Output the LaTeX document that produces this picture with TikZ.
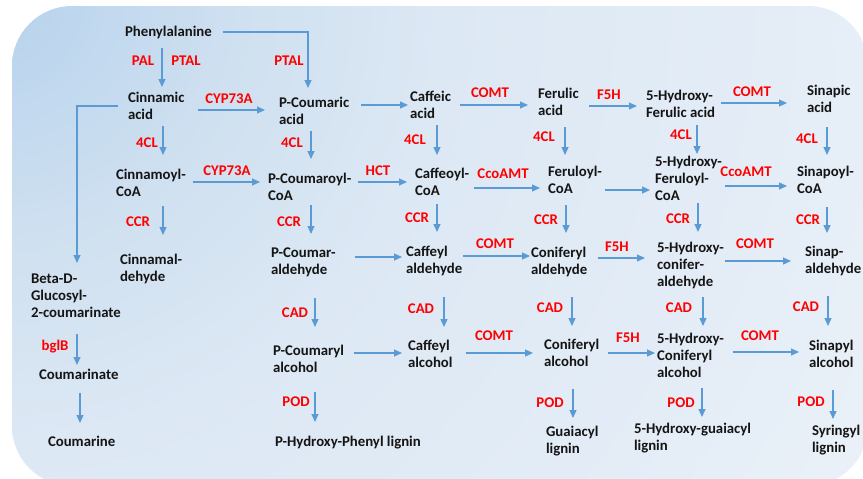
\documentclass[tikz,border=0pt]{standalone}
\usepackage{fontspec}
\setmainfont{Carlito}
\usetikzlibrary{arrows.meta}
\definecolor{arrowblue}{HTML}{5B9BD5}
\definecolor{labred}{HTML}{FF0000}
\definecolor{txt}{HTML}{151515}
\definecolor{bgA}{HTML}{B6D1EB}
\definecolor{bgB}{HTML}{BDD6EE}
\definecolor{bgC}{HTML}{CFE0F0}
\definecolor{bgD}{HTML}{DCE8F4}
\definecolor{bgE}{HTML}{E6EEF7}
\definecolor{bgF}{HTML}{EAF1F8}
% 25bp of the shading is stretched to 1000pt (1bp -> 40pt)
\pgfdeclareradialshading{bgrad}{\pgfpoint{0bp}{0bp}}{color(0bp)=(bgA); color(1.5bp)=(bgB); color(6bp)=(bgC); color(11bp)=(bgD); color(21.5bp)=(bgE); color(25bp)=(bgF); color(50bp)=(bgF)}
\begin{document}
\begin{tikzpicture}[x=1pt,y=-1pt,
  chem/.style={anchor=north west, inner sep=0pt, outer sep=0pt, align=left, text=txt,
    font=\fontsize{14.8}{17}\selectfont\bfseries, execute at begin node=\strut},
  enz/.style={anchor=base, inner sep=0pt, outer sep=0pt, text=labred,
    font=\fontsize{14.8}{17}\selectfont\bfseries},
  arr/.style={draw=arrowblue, line width=1.2pt, -{Triangle[length=8pt,width=7pt]}},
  ]
\useasboundingbox (0,0) rectangle (863,479);
\begin{scope}
\clip (0,0) rectangle (863,479);
\clip[rounded corners=60pt] (12,6) rectangle (868,486);
\shade[shading=bgrad] (-1000,-1000) rectangle (1000,1000);
\end{scope}

% compounds
\node[chem] (phe) at (125,24.8) {Phenylalanine};
\node[chem] (cin) at (128,91.8) {Cinnamic\\acid};
\node[chem] (pca) at (279,96.8) {P-Coumaric\\acid};
\node[chem] (caf) at (410,90.8) {Caffeic\\acid};
\node[chem] (fer) at (538,87.8) {Ferulic\\acid};
\node[chem] (hfa) at (646,89.8) {5-Hydroxy-\\Ferulic acid};
\node[chem] (sin) at (807,84.8) {Sinapic\\acid};
\node[chem] (cinco) at (116,168.8) {Cinnamoyl-\\CoA};
\node[chem] (pcco) at (268,172.8) {P-Coumaroyl-\\CoA};
\node[chem] (cafco) at (415,167.8) {Caffeoyl-\\CoA};
\node[chem] (ferco) at (548,165.8) {Feruloyl-\\CoA};
\node[chem] (hfco) at (655,155.8) {5-Hydroxy-\\Feruloyl-\\CoA};
\node[chem] (sinco) at (797,165.8) {Sinapoyl-\\CoA};
\node[chem] (cinald) at (120,253.8) {Cinnamal-\\dehyde};
\node[chem] (bgc) at (31,273.8) {Beta-D-\\Glucosyl-\\2-coumarinate};
\node[chem] (cmt) at (39,367.8) {Coumarinate};
\node[chem] (cme) at (48,434.8) {Coumarine};
\node[chem] (pcald) at (271,247.8) {P-Coumar-\\aldehyde};
\node[chem] (cafald) at (406,245.8) {Caffeyl\\aldehyde};
\node[chem] (conald) at (531,246.8) {Coniferyl\\aldehyde};
\node[chem] (hcald) at (657,241.8) {5-Hydroxy-\\conifer-\\aldehyde};
\node[chem] (sinald) at (805,245.8) {Sinap-\\aldehyde};
\node[chem] (pcalc) at (273,344.8) {P-Coumaryl\\alcohol};
\node[chem] (cafalc) at (408,339.8) {Caffeyl\\alcohol};
\node[chem] (conalc) at (544,338.8) {Coniferyl\\alcohol};
\node[chem] (hcalc) at (657,332.8) {5-Hydroxy-\\Coniferyl\\alcohol};
\node[chem] (sinalc) at (809,339.8) {Sinapyl\\alcohol};
\node[chem] (hlig) at (275,434.8) {P-Hydroxy-Phenyl lignin};
\node[chem] (glig) at (546,425.8) {Guaiacyl\\lignin};
\node[chem] (hglig) at (634,422.8) {5-Hydroxy-guaiacyl\\lignin};
\node[chem] (slig) at (812,424.8) {Syringyl\\lignin};

% enzymes
\node[enz] (e1) at (143,65.7) {PAL};
\node[enz] (e2) at (186,65.7) {PTAL};
\node[enz] (e3) at (289,65.7) {PTAL};
\node[enz] (e4) at (229,103.7) {CYP73A};
\node[enz] (e5) at (147,147.7) {4CL};
\node[enz] (e6) at (292,147.7) {4CL};
\node[enz] (e7) at (415,144.7) {4CL};
\node[enz] (e8) at (490,97.7) {COMT};
\node[enz] (e9) at (609,99.7) {F5H};
\node[enz] (e10) at (752,96.7) {COMT};
\node[enz] (e11) at (544,141.7) {4CL};
\node[enz] (e12) at (681,139.7) {4CL};
\node[enz] (e13) at (807,143.7) {4CL};
\node[enz] (e14) at (227,175.7) {CYP73A};
\node[enz] (e15) at (378,175.7) {HCT};
\node[enz] (e16) at (503,178.7) {CcoAMT};
\node[enz] (e17) at (746,176.7) {CcoAMT};
\node[enz] (e18) at (138,226.7) {CCR};
\node[enz] (e19) at (289,226.7) {CCR};
\node[enz] (e20) at (417,222.7) {CCR};
\node[enz] (e21) at (546,224.7) {CCR};
\node[enz] (e22) at (678,223.7) {CCR};
\node[enz] (e23) at (808,224.7) {CCR};
\node[enz] (e24) at (495,248.7) {COMT};
\node[enz] (e25) at (617,251.7) {F5H};
\node[enz] (e26) at (755,248.7) {COMT};
\node[enz] (e27) at (295,317.7) {CAD};
\node[enz] (e28) at (421,313.7) {CAD};
\node[enz] (e29) at (550,312.7) {CAD};
\node[enz] (e30) at (679,312.7) {CAD};
\node[enz] (e31) at (806,311.7) {CAD};
\node[enz] (e32) at (494,340.7) {COMT};
\node[enz] (e33) at (628,342.7) {F5H};
\node[enz] (e34) at (760,340.7) {COMT};
\node[enz] (e35) at (55,350) {bglB};
\node[enz] (e36) at (296,406.7) {POD};
\node[enz] (e37) at (550,407.7) {POD};
\node[enz] (e38) at (681,407.7) {POD};
\node[enz] (e39) at (811,406.7) {POD};

% elbow connectors
\draw[arr, shorten <=11pt, shorten >=8.8pt] (phe.east |- 0,32) -| (pca.north -| 308,0);
\draw[arr, shorten <=10pt, shorten >=10.8pt] (cin.west |- 0,106) -| (bgc.north -| 77,0);

% horizontal connectors
\draw[arr, shorten <=13pt, shorten >=14pt] (cin.east |- 0,110) -- (pca.west |- 0,110);
\draw[arr, shorten <=12pt, shorten >=2pt] (pca.east |- 0,105) -- (caf.west |- 0,105);
\draw[arr, shorten <=9pt, shorten >=10pt] (caf.east |- 0,105) -- (fer.west |- 0,105);
\draw[arr, shorten <=10pt, shorten >=9pt] (fer.east |- 0,106) -- (hfa.west |- 0,106);
\draw[arr, shorten <=6pt, shorten >=20pt] (hfa.east |- 0,103) -- (sin.west |- 0,103);
\draw[arr, shorten <=7pt, shorten >=8pt] (cinco.east |- 0,182) -- (pcco.west |- 0,182);
\draw[arr, shorten <=7pt, shorten >=8pt] (pcco.east |- 0,182) -- (cafco.west |- 0,182);
\draw[arr, shorten <=5pt, shorten >=8pt] (cafco.east |- 0,188) -- (ferco.west |- 0,188);
\draw[arr, shorten <=3pt, shorten >=5pt] (ferco.east |- 0,190) -- (hfco.west |- 0,190);
\draw[arr, shorten <=3pt, shorten >=10pt] (hfco.east |- 0,186) -- (sinco.west |- 0,186);
\draw[arr, shorten <=19pt, shorten >=4pt] (pcald.east |- 0,257) -- (cafald.west |- 0,257);
\draw[arr, shorten <=1pt, shorten >=1pt] (cafald.east |- 0,256) -- (conald.west |- 0,256);
\draw[arr, shorten <=11pt, shorten >=12pt] (conald.east |- 0,258) -- (hcald.west |- 0,258);
\draw[arr, shorten <=1pt, shorten >=14pt] (hcald.east |- 0,261) -- (sinald.west |- 0,261);
\draw[arr, shorten <=10pt, shorten >=6pt] (pcalc.east |- 0,353) -- (cafalc.west |- 0,353);
\draw[arr, shorten <=13pt, shorten >=11pt] (cafalc.east |- 0,353) -- (conalc.west |- 0,353);
\draw[arr, shorten <=9pt, shorten >=2pt] (conalc.east |- 0,353) -- (hcalc.west |- 0,353);
\draw[arr, shorten <=9pt, shorten >=10pt] (hcalc.east |- 0,352) -- (sinalc.west |- 0,352);

% vertical connectors
\draw[arr, shorten <=23.2pt, shorten >=4.8pt] (phe.north -| 162,0) -- (cin.north -| 162,0);
\draw[arr, shorten <=34.2pt, shorten >=13.8pt] (cin.north -| 163,0) -- (cinco.north -| 163,0);
\draw[arr, shorten <=34.2pt, shorten >=13.8pt] (pca.north -| 311,0) -- (pcco.north -| 311,0);
\draw[arr, shorten <=34.2pt, shorten >=12.8pt] (caf.north -| 437,0) -- (cafco.north -| 437,0);
\draw[arr, shorten <=39.2pt, shorten >=10.8pt] (fer.north -| 565,0) -- (ferco.north -| 565,0);
\draw[arr, shorten <=35.2pt, shorten >=1.8pt] (hfa.north -| 697,0) -- (hfco.north -| 697,0);
\draw[arr, shorten <=42.2pt, shorten >=10.8pt] (sin.north -| 827,0) -- (sinco.north -| 827,0);
\draw[arr, shorten <=37.2pt, shorten >=18.8pt] (cinco.north -| 163,0) -- (cinald.north -| 163,0);
\draw[arr, shorten <=32.2pt, shorten >=13.8pt] (pcco.north -| 311,0) -- (pcald.north -| 311,0);
\draw[arr, shorten <=36.2pt, shorten >=13.8pt] (cafco.north -| 437,0) -- (cafald.north -| 437,0);
\draw[arr, shorten <=39.2pt, shorten >=13.8pt] (ferco.north -| 566,0) -- (conald.north -| 566,0);
\draw[arr, shorten <=47.2pt, shorten >=9.8pt] (hfco.north -| 698,0) -- (hcald.north -| 698,0);
\draw[arr, shorten <=41.2pt, shorten >=12.8pt] (sinco.north -| 827,0) -- (sinald.north -| 827,0);
\draw[arr, shorten <=50.2pt, shorten >=17.8pt] (pcald.north -| 315,0) -- (pcalc.north -| 315,0);
\draw[arr, shorten <=51.2pt, shorten >=12.8pt] (cafald.north -| 444,0) -- (cafalc.north -| 444,0);
\draw[arr, shorten <=50.2pt, shorten >=12.8pt] (conald.north -| 572,0) -- (conalc.north -| 572,0);
\draw[arr, shorten <=55.2pt, shorten >=6.8pt] (hcald.north -| 703,0) -- (hcalc.north -| 703,0);
\draw[arr, shorten <=50.2pt, shorten >=13.8pt] (sinald.north -| 828,0) -- (sinalc.north -| 828,0);
\draw[arr, shorten <=47.2pt, shorten >=12.8pt] (pcalc.north -| 315,0) -- (hlig.north -| 315,0);
\draw[arr, shorten <=50.2pt, shorten >=7.8pt] (conalc.north -| 573,0) -- (glig.north -| 573,0);
\draw[arr, shorten <=55.2pt, shorten >=5.8pt] (hcalc.north -| 702,0) -- (hglig.north -| 702,0);
\draw[arr, shorten <=50.2pt, shorten >=5.8pt] (sinalc.north -| 833,0) -- (slig.north -| 833,0);
\draw[arr, shorten <=60.2pt, shorten >=2.8pt] (bgc.north -| 77,0) -- (cmt.north -| 77,0);
\draw[arr, shorten <=25.2pt, shorten >=11.8pt] (cmt.north -| 80,0) -- (cme.north -| 80,0);
\end{tikzpicture}
\end{document}
